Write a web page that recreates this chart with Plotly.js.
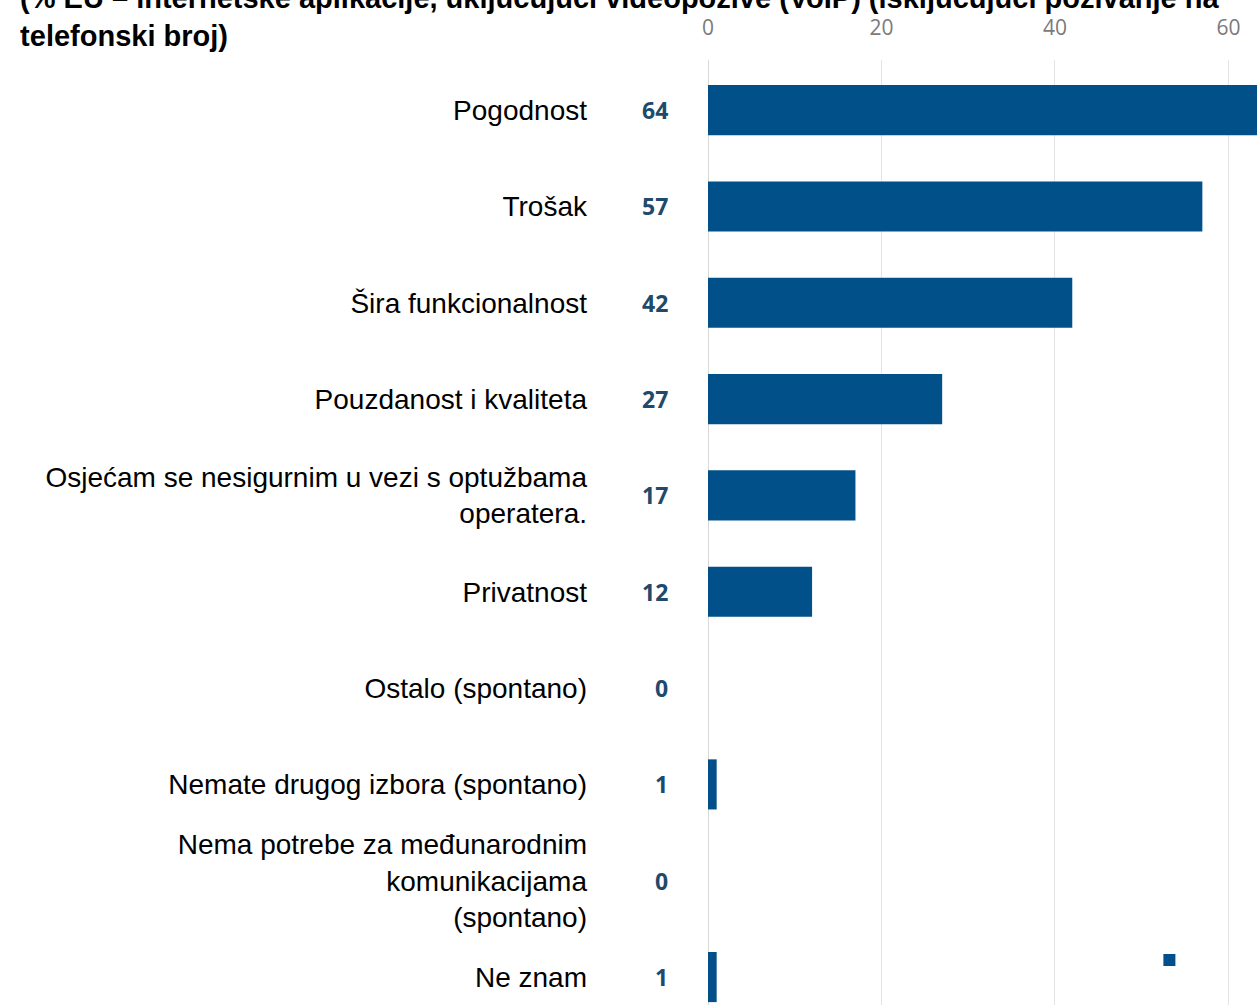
<!DOCTYPE html>
<html>
<head>
<meta charset="utf-8">
<script src="https://cdn.plot.ly/plotly-3.0.1.min.js"></script>
<style>html,body{margin:0;padding:0;background:#fff;}#chart{width:1257px;height:1005px;}</style>
</head>
<body>
<div id="chart"></div>
<script>
const categories = [
  "Pogodnost",
  "Trošak",
  "Šira funkcionalnost",
  "Pouzdanost i kvaliteta",
  "Osjećam se nesigurnim u vezi s optužbama<br>operatera.",
  "Privatnost",
  "Ostalo (spontano)",
  "Nemate drugog izbora (spontano)",
  "Nema potrebe za međunarodnim<br>komunikacijama<br>(spontano)",
  "Ne znam"
];
const values = [64, 57, 42, 27, 17, 12, 0, 1, 0, 1];
const tickValues = [0, 20, 40, 60];
const titleText = "(% EU – internetske aplikacije, uključujući videopozive (VoIP) (isključujući pozivanje na<br>telefonski broj)";

const barColor = "#02508A";
const labelColor = "#1E4A6C";

const trace = {
  type: "bar",
  orientation: "h",
  x: values,
  y: categories,
  width: 0.52,
  marker: { color: barColor, line: { width: 0 } },
  name: " ",
  showlegend: true,
  hoverinfo: "x+y"
};

const annotations = categories.map((c, i) => ({
  x: 0, y: c, xref: "x", yref: "y",
  text: String(values[i]),
  showarrow: false,
  xanchor: "right",
  xshift: -38,
  font: { family: "Open Sans, sans-serif", size: 23, color: labelColor, weight: 700 }
}));

const layout = {
  width: 1257,
  height: 1005,
  margin: { l: 708, r: 0, t: 60, b: 0, pad: 0 },
  paper_bgcolor: "#ffffff",
  plot_bgcolor: "#ffffff",
  title: {
    text: titleText,
    xref: "container", yref: "container",
    x: 0.016, xanchor: "left",
    y: 0.992, yanchor: "bottom",
    font: { family: "Liberation Sans, Arial, sans-serif", size: 29, color: "#000000", weight: 700 }
  },
  showlegend: true,
  legend: {
    x: 0.804, y: 0.063, xanchor: "left", yanchor: "top",
    bgcolor: "rgba(0,0,0,0)",
    font: { size: 10 }
  },
  xaxis: {
    side: "top",
    range: [0, 63.3],
    tickvals: tickValues,
    showgrid: true,
    gridcolor: "#e4e4e4",
    gridwidth: 1,
    zeroline: true,
    zerolinecolor: "#d8d8d8",
    zerolinewidth: 1,
    showline: false,
    ticks: "outside",
    ticklen: 16,
    tickcolor: "rgba(0,0,0,0)",
    tickfont: { family: "Open Sans, sans-serif", size: 21, color: "#7a7a7a" },
    fixedrange: true
  },
  yaxis: {
    type: "category",
    categoryorder: "array",
    categoryarray: categories,
    range: [9.29, -0.52],
    autorange: false,
    showgrid: false,
    zeroline: false,
    showline: false,
    ticks: "",
    ticklabelstandoff: 120,
    tickfont: { family: "Liberation Sans, Arial, sans-serif", size: 28, color: "#000000" },
    fixedrange: true
  },
  annotations: annotations
};

Plotly.newPlot("chart", [trace], layout, { displayModeBar: false, staticPlot: true });
</script>
</body>
</html>
